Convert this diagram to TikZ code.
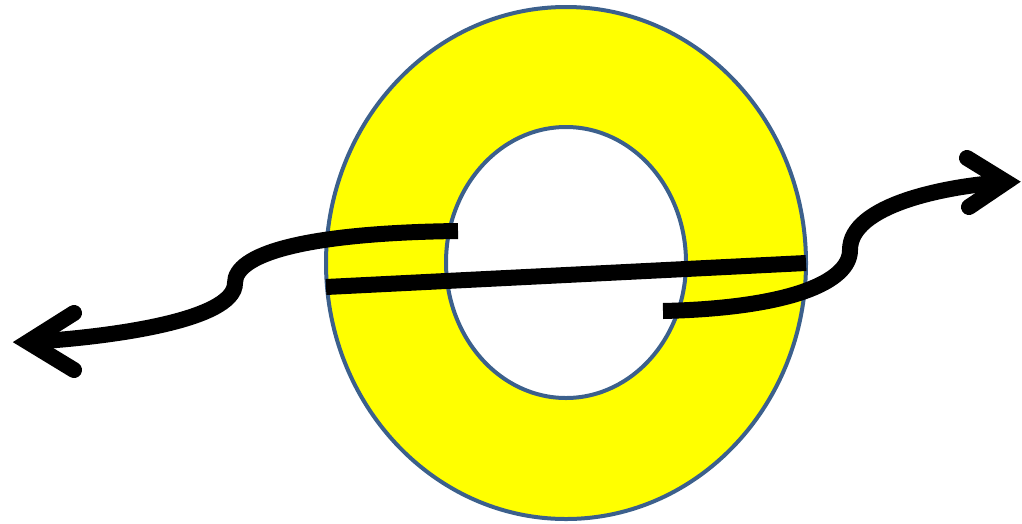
\documentclass[tikz,border=0pt]{standalone}
\begin{document}
\begin{tikzpicture}[x=1pt,y=-1pt,
  ringline/.style={draw={rgb,255:red,60;green,96;blue,140},line width=4pt},
  wire/.style={line width=16pt,line cap=butt},
  tipline/.style={line width=16pt,line cap=round,line join=miter,miter limit=4}]
\useasboundingbox (0,0) rectangle (1022,523);
% ring
\path[fill={rgb,255:red,255;green,255;blue,0},even odd rule]
  (566,263) ellipse [x radius=240,y radius=256]
  (566,262.5) ellipse [x radius=120,y radius=135.5];
\draw[ringline] (566,263) ellipse [x radius=240,y radius=256];
\draw[ringline] (566,262.5) ellipse [x radius=120,y radius=135.5];
% coordinates
\coordinate (barL) at (326,287);
\coordinate (barR) at (806,263);
\coordinate (lStart) at (458,231);
\coordinate (lBend) at (235,283);
\coordinate (lTip) at (28,342);
\coordinate (lArmA) at (74,313);
\coordinate (lArmB) at (74,370);
\coordinate (rStart) at (663,311);
\coordinate (rBend) at (850,250);
\coordinate (rTip) at (1006,182);
\coordinate (rArmA) at (967,158);
\coordinate (rArmB) at (969,207);
% straight bar
\draw[wire] (barL) -- (barR);
% left wire
\draw[wire] (lStart) .. controls (300,233) and (235,255) .. (lBend)
  .. controls (235,322) and (100,338) .. (lTip);
\draw[tipline] (lArmA) -- (lTip) -- (lArmB);
% right wire
\draw[wire] (rStart) .. controls (790,308) and (850,282) .. (rBend)
  .. controls (850,205) and (945,186) .. (rTip);
\draw[tipline] (rArmA) -- (rTip) -- (rArmB);
\end{tikzpicture}
\end{document}
